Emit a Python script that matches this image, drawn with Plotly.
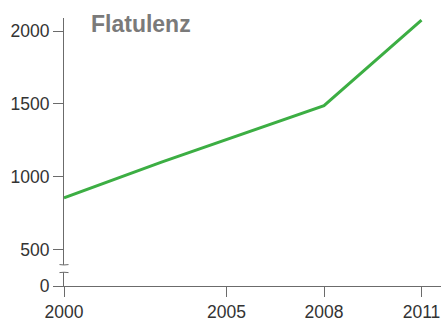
import plotly.graph_objects as go

# Flatulenz series
years = [2000, 2003, 2008, 2011]
values = [855, 1100, 1488, 2075]

# y axis is broken between 0 and 500: the "0" tick sits at a compressed position
y_tick_vals = [250, 500, 1000, 1500, 2000]
y_tick_text = ["0", "500", "1000", "1500", "2000"]
x_tick_vals = [2000, 2005, 2008, 2011]
x_tick_text = ["2000", "2005", "2008", "2011"]

axis_color = "#6b6b6b"
font_family = "Liberation Sans, Arial, sans-serif"

fig = go.Figure()
fig.add_trace(go.Scatter(
    x=years, y=values, mode="lines",
    line=dict(color="#3cae43", width=3),
    hoverinfo="skip", showlegend=False,
))

fig.update_layout(
    width=441, height=322,
    margin=dict(l=64, r=0, t=18, b=34),
    paper_bgcolor="white", plot_bgcolor="white",
    font=dict(family=font_family, size=18, color="#333333"),
    xaxis=dict(
        range=[2000, 2011.6], tickvals=x_tick_vals, ticktext=x_tick_text,
        showgrid=False, zeroline=False, showline=True, linecolor=axis_color,
        linewidth=1, ticks="outside", ticklen=10, tickcolor=axis_color,
        tickfont=dict(size=17.5, color="#333333"),
    ),
    yaxis=dict(
        range=[250, 2090], tickvals=y_tick_vals, ticktext=y_tick_text,
        showgrid=False, zeroline=False, showline=True, linecolor=axis_color,
        linewidth=1, ticks="outside", ticklen=10, tickcolor=axis_color,
        tickfont=dict(size=17.5, color="#333333"),
    ),
    annotations=[dict(
        text="<b>Flatulenz</b>", xref="paper", yref="paper",
        x=0.066, y=0.978, xanchor="left", yanchor="middle", showarrow=False,
        font=dict(size=23, color="#7a7a7a", family=font_family),
    )],
    shapes=[
        # gap in the y axis line marking the break
        dict(type="rect", xref="x domain", yref="y", x0=-0.01, x1=0.01,
             y0=345, y1=395, fillcolor="white", line=dict(width=0), layer="above"),
        dict(type="path", xref="x domain", yref="y",
             path="M -0.012,397 Q 0,392 0.012,397",
             line=dict(color=axis_color, width=1)),
        dict(type="path", xref="x domain", yref="y",
             path="M -0.012,342 Q 0,347 0.012,342",
             line=dict(color=axis_color, width=1)),
    ],
)

fig.write_html("out.html")
